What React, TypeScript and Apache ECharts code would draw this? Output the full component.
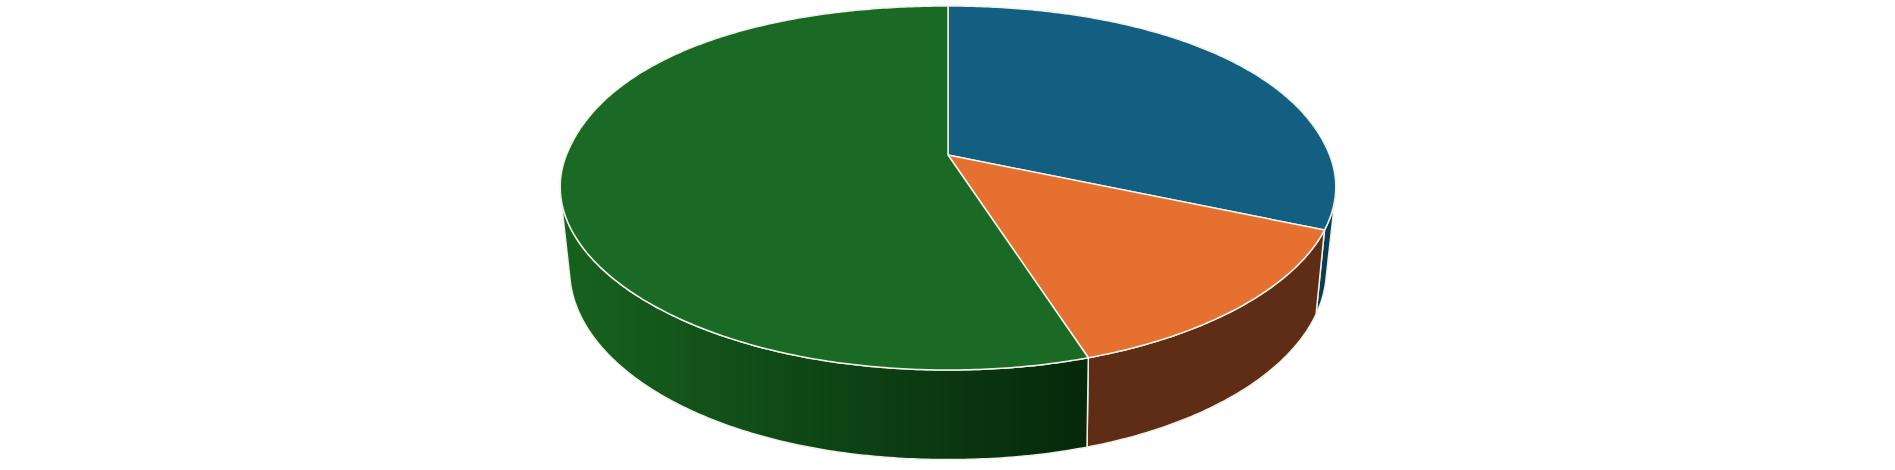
import React, { useEffect, useRef } from "react";
import * as echarts from "echarts";

const sliceValues = [31, 14, 55];
const topColors = ["#135f82", "#e6702f", "#1a6925"];
const wallStartColors = ["#0c3c53", "#5f2c15", "#17621f"];
const wallEndColors = ["#0c3c53", "#5f2c15", "#06280b"];
const edgeColor = "#eef1e6";

// perspective projection of the unit disc onto the page
const CX = 948, APEX_Y = 155, A = 381.6, B = 176, P = 0.1813, Q = 0.025, E = 81;
// handle length of the cubic used for each quarter of the rim
const TOP_RIM_K = [0.585, 0.54, 0.54, 0.6];
const BOTTOM_RIM_K = [0.585, 0.555, 0.555, 0.6];
const total = sliceValues.reduce((a, b) => a + b, 0);

function persp(x: number, z: number, h: number): number[] {
  const w = 1 - P * z + Q * h;
  return [CX + (A * x) / w, APEX_Y + (B * z + E * h) / w];
}
function project(theta: number, h: number): number[] {
  const turn = theta / (Math.PI / 2);
  const q = Math.min(3, Math.floor(turn));
  const t = turn - q;
  const k = (h > 0 ? BOTTOM_RIM_K : TOP_RIM_K)[q];
  const a = (q * Math.PI) / 2, b = ((q + 1) * Math.PI) / 2;
  const p0 = persp(Math.sin(a), -Math.cos(a), h);
  const p1 = persp(Math.sin(a) + k * Math.cos(a), -Math.cos(a) + k * Math.sin(a), h);
  const p2 = persp(Math.sin(b) - k * Math.cos(b), -Math.cos(b) - k * Math.sin(b), h);
  const p3 = persp(Math.sin(b), -Math.cos(b), h);
  const u = 1 - t;
  return [0, 1].map(
    (c) => u * u * u * p0[c] + 3 * u * u * t * p1[c] + 3 * u * t * t * p2[c] + t * t * t * p3[c]
  );
}
function sliceAngles(i: number): number[] {
  let before = 0;
  for (let k = 0; k < i; k++) before += sliceValues[k];
  return [(before / total) * 2 * Math.PI, ((before + sliceValues[i]) / total) * 2 * Math.PI * 0.999999];
}
function samples(a0: number, a1: number): number[] {
  const n = Math.max(2, Math.ceil((a1 - a0) / 0.01));
  const out: number[] = [];
  for (let i = 0; i <= n; i++) out.push(a0 + ((a1 - a0) * i) / n);
  return out;
}
function facesViewer(t: number): boolean {
  const d = 0.001;
  const a = project(t, 0), b = project(t + d, 0), c = project(t, 1);
  return (b[0] - a[0]) * (c[1] - a[1]) - (b[1] - a[1]) * (c[0] - a[0]) < 0;
}

function renderWall(_p: any, api: any) {
  const i = api.value(1);
  const [a0, a1] = sliceAngles(i);
  const vis = samples(a0, a1).filter(facesViewer);
  if (vis.length < 2) return { type: "group", children: [] };
  const pts = [...vis.map((t) => project(t, 0)), ...vis.slice().reverse().map((t) => project(t, 1))];
  const xs = pts.map((p) => p[0]);
  return {
    type: "polygon",
    shape: { points: pts },
    style: {
      fill: new echarts.graphic.LinearGradient(
        Math.min(...xs), 0, Math.max(...xs), 0,
        [
          { offset: 0, color: wallStartColors[i] },
          { offset: 1, color: wallEndColors[i] },
        ],
        true
      ),
      stroke: edgeColor,
      lineWidth: 1.5,
      lineJoin: "round",
    },
  };
}

function renderTop(_p: any, api: any) {
  const i = api.value(1);
  const [a0, a1] = sliceAngles(i);
  const pts = [[CX, APEX_Y], ...samples(a0, a1).map((t) => project(t, 0))];
  return {
    type: "polygon",
    shape: { points: pts },
    style: { fill: topColors[i], stroke: edgeColor, lineWidth: 1.5, lineJoin: "round" },
  };
}

export default function App() {
  const ref = useRef<HTMLDivElement>(null);
  useEffect(() => {
    const chart = echarts.init(ref.current!, undefined, { renderer: "svg" });
    const data = sliceValues.map((v, i) => [v, i]);
    chart.setOption({
      animation: false,
      backgroundColor: "#ffffff",
      series: [
        { type: "custom", coordinateSystem: "none", renderItem: renderWall, data, z: 1, silent: true },
        { type: "custom", coordinateSystem: "none", renderItem: renderTop, data, z: 2, silent: true },
      ],
    });
    return () => chart.dispose();
  }, []);
  return <div ref={ref} style={{ position: "fixed", left: 0, top: 0, width: 1895, height: 470 }} />;
}
